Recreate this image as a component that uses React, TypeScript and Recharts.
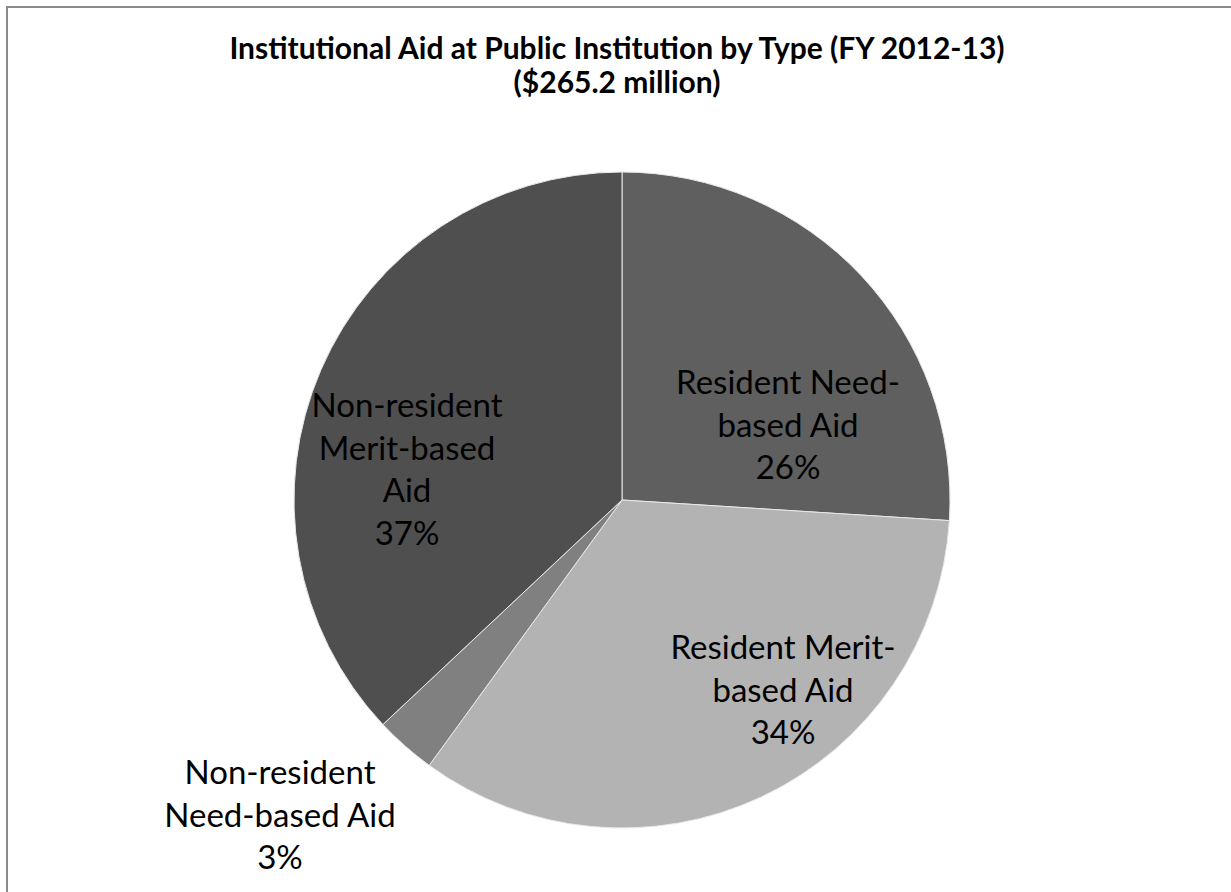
import React from "react";
import { PieChart, Pie, Cell } from "recharts";

const categories = [
  "Resident Need-based Aid",
  "Resident Merit-based Aid",
  "Non-resident Need-based Aid",
  "Non-resident Merit-based Aid",
];
const shares = [26, 34, 3, 37];
const labelLines = [
  ["Resident Need-", "based Aid"],
  ["Resident Merit-", "based Aid"],
  ["Non-resident", "Need-based Aid"],
  ["Non-resident", "Merit-based", "Aid"],
];
const colors = ["#5f5f5f", "#b3b3b3", "#808080", "#4f4f4f"];

const data = categories.map((name, i) => ({ name, value: shares[i], lines: labelLines[i] }));

// label centre offsets from pie centre (pixels)
const labelOffsets = [
  { dx: 166, dy: -75 },
  { dx: 161, dy: 190 },
  { dx: -342, dy: 315 },
  { dx: -215, dy: -31 },
];

const FONT = "Lato, 'Open Sans', sans-serif";

const renderLabel = (props: any) => {
  const { cx, cy, index } = props;
  const off = labelOffsets[index];
  const lines: string[] = [...data[index].lines, `${data[index].value}%`];
  const lh = 42.5;
  const x = cx + off.dx;
  const y0 = cy + off.dy - ((lines.length - 1) * lh) / 2;
  return (
    <text
      key={`lbl-${index}`}
      x={x}
      y={y0}
      textAnchor="middle"
      fontFamily={FONT}
      fontSize={33}
      fill="#000"
    >
      {lines.map((l, k) => (
        <tspan key={k} x={x} y={y0 + k * lh} dy="0.36em">
          {l}
        </tspan>
      ))}
    </text>
  );
};

export default function App() {
  return (
    <div style={{ position: "absolute", left: 0, top: 0, width: 1231, height: 892, background: "#fff", overflow: "hidden" }}>
      <div
        style={{
          position: "absolute",
          left: 6,
          top: 6,
          width: 1225,
          height: 886,
          borderTop: "2px solid #8a8a8a",
          borderLeft: "2px solid #8a8a8a",
          boxSizing: "border-box",
        }}
      />
      <div
        style={{
          position: "absolute",
          left: 0,
          top: 30,
          width: 1234,
          textAlign: "center",
          fontFamily: FONT,
          fontWeight: 700,
          fontSize: 30,
          lineHeight: "34px",
          color: "#000",
        }}
      >
        <div>Institutional Aid at Public Institution by Type (FY 2012-13)</div>
        <div>($265.2 million)</div>
      </div>
      <div style={{ position: "absolute", left: 0, top: 0 }}>
        <PieChart width={1231} height={892} margin={{ top: 0, right: 0, bottom: 0, left: 0 }}>
          <Pie
            data={data}
            dataKey="value"
            nameKey="name"
            cx={622}
            cy={500}
            outerRadius={328}
            startAngle={90}
            endAngle={-270}
            stroke="#e8e8e8"
            strokeWidth={1}
            label={renderLabel}
            labelLine={false}
            isAnimationActive={false}
          >
            {data.map((d, i) => (
              <Cell key={d.name} fill={colors[i]} />
            ))}
          </Pie>
        </PieChart>
      </div>
    </div>
  );
}
